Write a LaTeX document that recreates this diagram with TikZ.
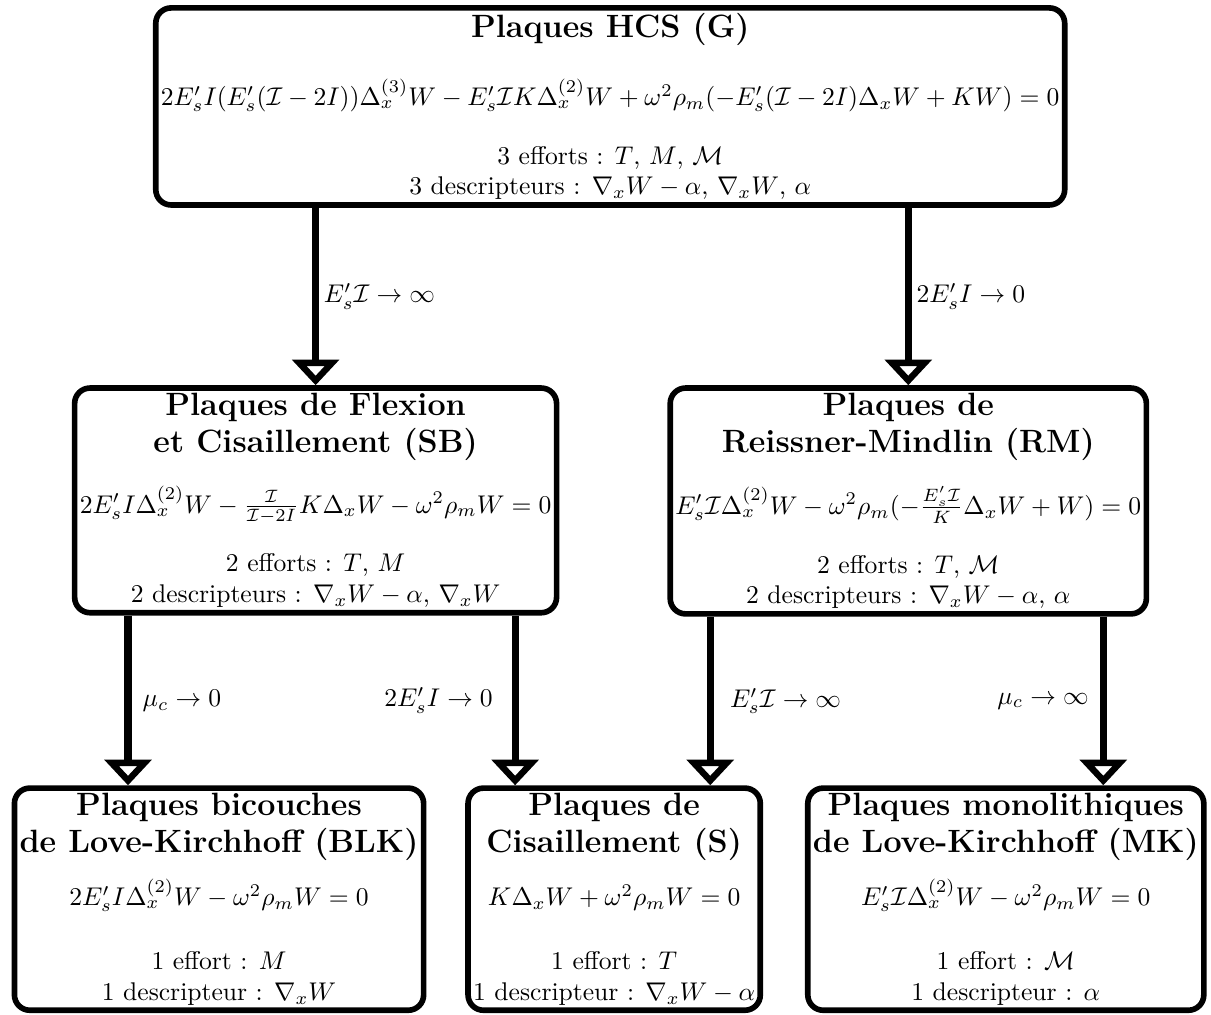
\documentclass[tikz,border=0pt]{standalone}
\usepackage{amsmath}
\usepackage{amssymb}
\usepackage{tikz}
\usetikzlibrary{arrows.meta}

\newcommand{\titre}[1]{{\fontsize{12.6pt}{15pt}\selectfont\bfseries #1}}

\tikzset{
	plaque/.style={draw, line width=2.2pt, rounded corners=6pt, align=center, inner sep=2pt, anchor=north},
	fleche/.style={line width=2.8pt, -{Triangle[open, width=18pt, length=10pt]}}
}

\begin{document}
\begin{tikzpicture}
	
	\useasboundingbox (0,0) rectangle (16.63,13.93);
	
	\node[plaque] (hcs) at (8.38,13.86) {\titre{Plaques HCS (G)}\\[12pt]
		$2E'_sI(E'_s(\mathcal{I}-2I))\Delta_x^{(3)}W - E'_s\mathcal{I}K\Delta_x^{(2)}W + \omega^2\rho_m(-E'_s(\mathcal{I}-2I)\Delta_xW + KW) = 0$\\[11pt]
		3 efforts : $T$, $M$, $\mathcal{M}$\\
		3 descripteurs : $\nabla_xW-\alpha$, $\nabla_xW$, $\alpha$};
	
	\node[plaque] (sb) at (4.334,8.64) {\titre{Plaques de Flexion}\\[2.5pt] \titre{et Cisaillement (SB)}\\[9pt]
		$2E'_sI\Delta_x^{(2)}W - \frac{\mathcal{I}}{\mathcal{I}-2I}K\Delta_xW - \omega^2\rho_mW = 0$\\[11pt]
		2 efforts : $T$, $M$\\
		2 descripteurs : $\nabla_xW-\alpha$, $\nabla_xW$};
	
	\node[plaque] (rm) at (12.473,8.64) {\titre{Plaques de}\\[2.5pt] \titre{Reissner-Mindlin (RM)}\\[9pt]
		$E'_s\mathcal{I}\Delta_x^{(2)}W - \omega^2\rho_m(-\frac{E'_s\mathcal{I}}{K}\Delta_xW + W) = 0$\\[11pt]
		2 efforts : $T$, $\mathcal{M}$\\
		2 descripteurs : $\nabla_xW-\alpha$, $\alpha$};
	
	\node[plaque] (blk) at (3.008,3.146) {\titre{Plaques bicouches}\\[2.5pt] \titre{de Love-Kirchhoff (BLK)}\\[6pt]
		$2E'_sI\Delta_x^{(2)}W - \omega^2\rho_mW = 0$\\[13pt]
		1 effort : $M$\\
		1 descripteur : $\nabla_xW$};
	
	\node[plaque] (s) at (8.434,3.146) {\titre{Plaques de}\\[2.5pt] \titre{Cisaillement (S)}\\[6pt]
		$\vphantom{\Delta_x^{(2)}}K\Delta_xW + \omega^2\rho_mW = 0$\\[13pt]
		1 effort : $T$\\
		1 descripteur : $\nabla_xW-\alpha$};
	
	\node[plaque] (mk) at (13.812,3.146) {\titre{Plaques monolithiques}\\[2.5pt] \titre{de Love-Kirchhoff (MK)}\\[6pt]
		$E'_s\mathcal{I}\Delta_x^{(2)}W - \omega^2\rho_mW = 0$\\[13pt]
		1 effort : $\mathcal{M}$\\
		1 descripteur : $\alpha$};
	
	\coordinate (x3) at (1.758,0);
	\coordinate (x4) at (7.074,0);
	\coordinate (x5) at (9.753,0);
	\coordinate (x6) at (15.151,0);
	
	\draw[fleche] (hcs.south -| sb.north) -- node[right=-1.5pt] {$E'_s\mathcal{I}\to\infty$} (sb.north);
	\draw[fleche] (hcs.south -| rm.north) -- node[right=-1.5pt] {$2E'_sI\to 0$} (rm.north);
	\draw[fleche] (sb.south -| x3) -- node[right=1pt] {$\mu_c\to 0$} (blk.north -| x3);
	\draw[fleche] (sb.south -| x4) -- node[left=4pt] {$2E'_sI\to 0$} (s.north -| x4);
	\draw[fleche] (rm.south -| x5) -- node[right=3pt] {$E'_s\mathcal{I}\to\infty$} (s.north -| x5);
	\draw[fleche] (rm.south -| x6) -- node[left=1pt] {$\mu_c\to\infty$} (mk.north -| x6);
	
\end{tikzpicture}
\end{document}
